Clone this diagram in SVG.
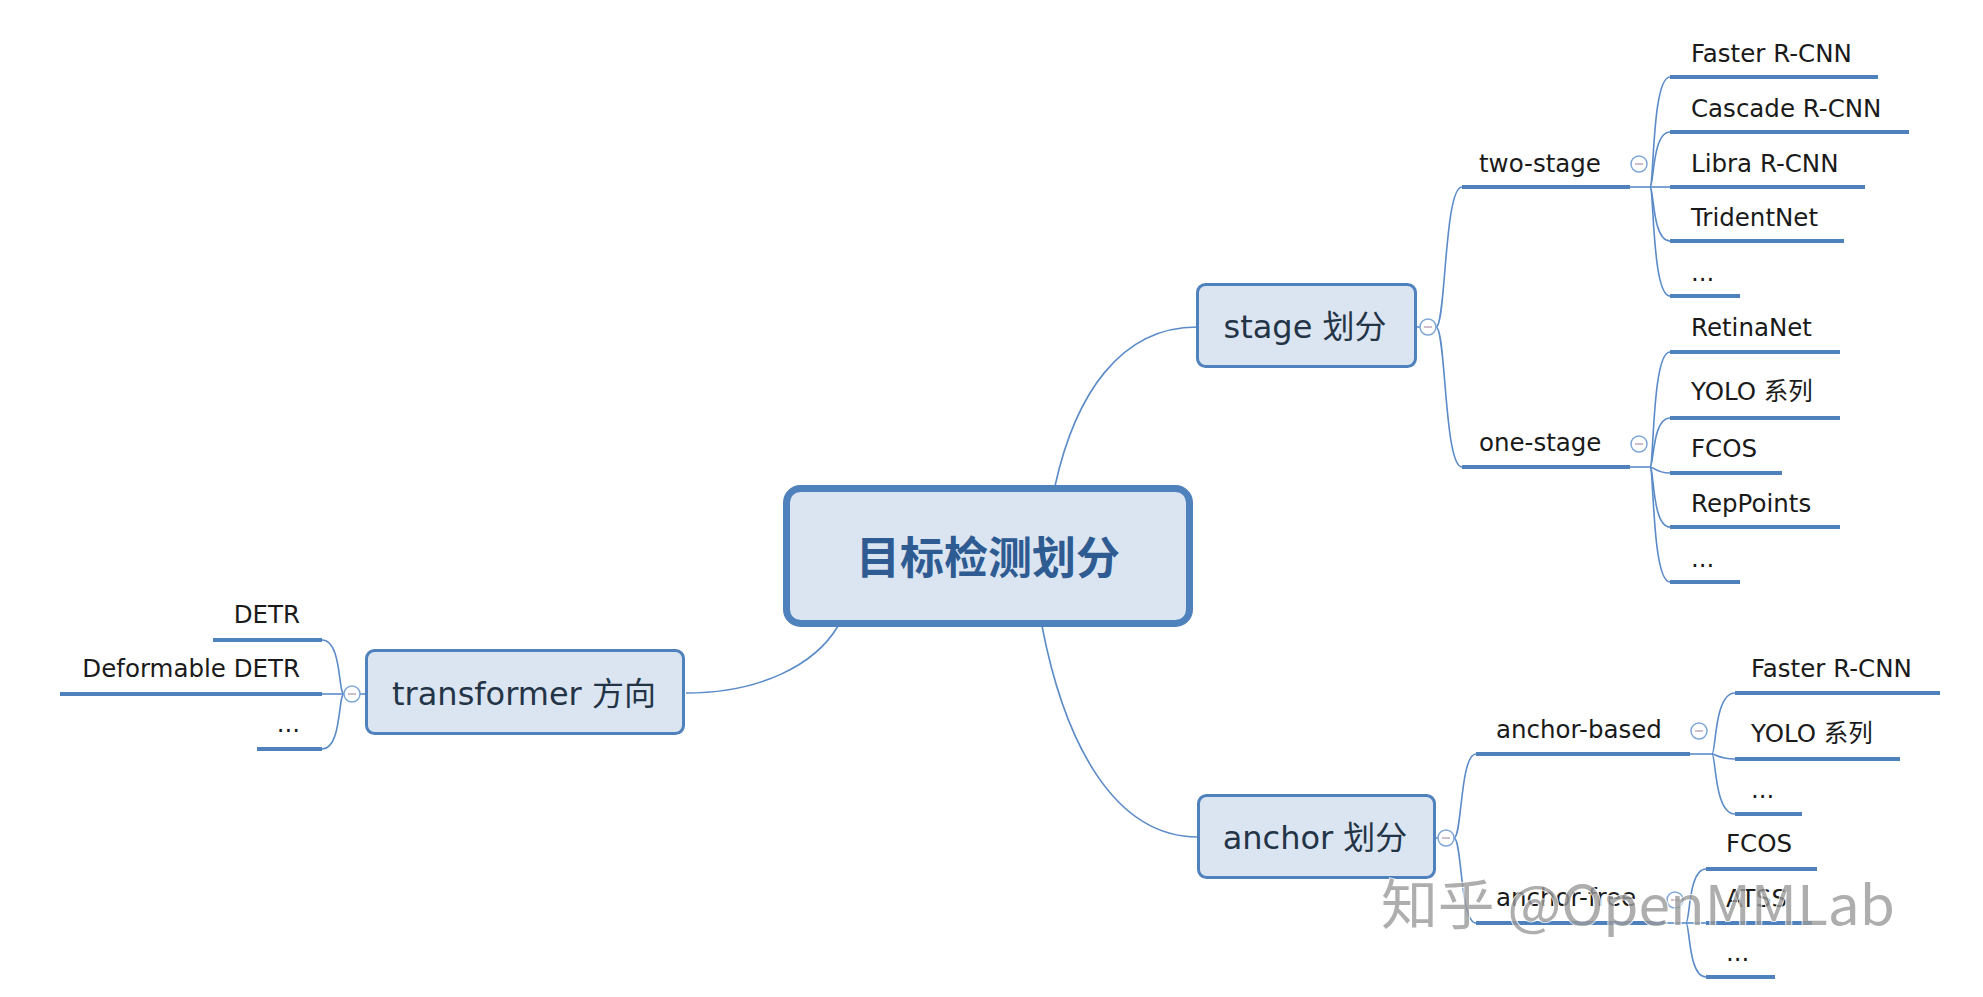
<svg xmlns="http://www.w3.org/2000/svg" width="1983" height="997" viewBox="0 0 1983 997">
<style>
.box{fill:#dbe5f1;stroke:#4f81bd;stroke-width:3}
.root{fill:#dbe5f1;stroke:#4f81bd;stroke-width:7}
.ul{stroke:#4f81bd;stroke-width:4;stroke-linecap:butt}
.conn{fill:none;stroke:#5b8bc8;stroke-width:1.6}
.t{font-family:"DejaVu Sans","Noto Sans CJK SC",sans-serif;font-size:24.5px;fill:#1a1a1a}
.bt{font-family:"DejaVu Sans","Noto Sans CJK SC",sans-serif;font-size:32px;fill:#243447;text-anchor:middle}
.rt{font-family:"Noto Sans CJK SC",sans-serif;font-size:44px;font-weight:bold;fill:#2e5b92;text-anchor:middle}
.tg{fill:#fff;stroke:#7ea6d8;stroke-width:1.5}
.mi{stroke:#c0a8bc;stroke-width:1.5}
.wm{font-family:"Noto Sans CJK SC",sans-serif;font-size:54px;fill:#9a9a9a;stroke:#fff;stroke-width:2;paint-order:stroke;opacity:0.8}
</style>
<rect width="1983" height="997" fill="#fff"/>
<g id="connectors">
<path class="conn" d="M1055,486 C1075,395 1120,327 1197,327"/>
<path class="conn" d="M1042,626 C1065,745 1115,837 1198,837"/>
<path class="conn" d="M838,626 C815,665 760,693 686,693"/>
<path class="conn" d="M1416,327 L1420,327"/>
<path class="conn" d="M1436,327 C1446,327 1444,187 1462,187"/>
<path class="conn" d="M1436,327 C1446,327 1444,467 1462,467"/>
<path class="conn" d="M1630,187 L1650,187"/>
<path class="conn" d="M1650,187 C1654,187 1652,77 1670,77"/>
<path class="conn" d="M1650,187 C1654,187 1652,132 1670,132"/>
<path class="conn" d="M1650,187 L1670,187"/>
<path class="conn" d="M1650,187 C1654,187 1652,241 1670,241"/>
<path class="conn" d="M1650,187 C1654,187 1652,296 1670,296"/>
<path class="conn" d="M1630,467 L1650,467"/>
<path class="conn" d="M1650,467 C1654,467 1652,352 1670,352"/>
<path class="conn" d="M1650,467 C1654,467 1652,418 1670,418"/>
<path class="conn" d="M1650,467 C1654,467 1656,473 1670,473"/>
<path class="conn" d="M1650,467 C1654,467 1652,527 1670,527"/>
<path class="conn" d="M1650,467 C1654,467 1652,582 1670,582"/>
<path class="conn" d="M1436,838 L1438,838"/>
<path class="conn" d="M1454,838 C1462,838 1460,754 1476,754"/>
<path class="conn" d="M1454,838 C1462,838 1460,923 1476,923"/>
<path class="conn" d="M1690,754 L1712,754"/>
<path class="conn" d="M1712,754 C1716,754 1714,693 1735,693"/>
<path class="conn" d="M1712,754 C1716,754 1718,759 1735,759"/>
<path class="conn" d="M1712,754 C1716,754 1714,814 1735,814"/>
<path class="conn" d="M1664,923 L1686,923"/>
<path class="conn" d="M1686,923 C1690,923 1688,869 1706,869"/>
<path class="conn" d="M1686,923 L1706,923"/>
<path class="conn" d="M1686,923 C1690,923 1688,977 1706,977"/>
<path class="conn" d="M367,694 L360,694"/>
<path class="conn" d="M344,694 C338,694 342,640 322,640"/>
<path class="conn" d="M344,694 L322,694"/>
<path class="conn" d="M344,694 C338,694 342,749 322,749"/>
</g>
<g id="root">
<rect class="root" x="786.5" y="488.5" width="403" height="135" rx="14"/>
<text class="rt" x="988" y="574">目标检测划分</text>
</g>
<g id="stage">
<rect class="box" x="1197.5" y="284.5" width="218" height="82" rx="8"/>
<text class="bt" x="1305" y="338">stage 划分</text>
<circle class="tg" cx="1428" cy="327" r="8"/><line class="mi" x1="1424" y1="327" x2="1432" y2="327"/>
</g>
<g id="anchor">
<rect class="box" x="1198.5" y="795.5" width="236" height="82" rx="8"/>
<text class="bt" x="1315" y="849">anchor 划分</text>
<circle class="tg" cx="1446" cy="838" r="8"/><line class="mi" x1="1442" y1="838" x2="1450" y2="838"/>
</g>
<g id="transformer">
<rect class="box" x="366.5" y="650.5" width="317" height="83" rx="8"/>
<text class="bt" x="524" y="705">transformer 方向</text>
<circle class="tg" cx="352" cy="694" r="8"/><line class="mi" x1="348" y1="694" x2="356" y2="694"/>
</g>
<g id="two-stage">
<text class="t" x="1479" y="172">two-stage</text>
<line class="ul" x1="1462" y1="187" x2="1630" y2="187"/>
<circle class="tg" cx="1639" cy="164" r="8"/><line class="mi" x1="1635" y1="164" x2="1643" y2="164"/>
</g>
<g id="ts-faster"><text class="t" x="1691" y="62">Faster R-CNN</text><line class="ul" x1="1670" y1="77" x2="1878" y2="77"/></g>
<g id="ts-cascade"><text class="t" x="1691" y="117">Cascade R-CNN</text><line class="ul" x1="1670" y1="132" x2="1909" y2="132"/></g>
<g id="ts-libra"><text class="t" x="1691" y="172">Libra R-CNN</text><line class="ul" x1="1670" y1="187" x2="1865" y2="187"/></g>
<g id="ts-trident"><text class="t" x="1691" y="226">TridentNet</text><line class="ul" x1="1670" y1="241" x2="1844" y2="241"/></g>
<g id="ts-more"><text class="t" x="1691" y="281">...</text><line class="ul" x1="1670" y1="296" x2="1740" y2="296"/></g>
<g id="one-stage">
<text class="t" x="1479" y="451">one-stage</text>
<line class="ul" x1="1462" y1="467" x2="1630" y2="467"/>
<circle class="tg" cx="1639" cy="444" r="8"/><line class="mi" x1="1635" y1="444" x2="1643" y2="444"/>
</g>
<g id="os-retina"><text class="t" x="1691" y="336">RetinaNet</text><line class="ul" x1="1670" y1="352" x2="1840" y2="352"/></g>
<g id="os-yolo"><text class="t" x="1691" y="400">YOLO 系列</text><line class="ul" x1="1670" y1="418" x2="1840" y2="418"/></g>
<g id="os-fcos"><text class="t" x="1691" y="457">FCOS</text><line class="ul" x1="1670" y1="473" x2="1782" y2="473"/></g>
<g id="os-reppoints"><text class="t" x="1691" y="512">RepPoints</text><line class="ul" x1="1670" y1="527" x2="1840" y2="527"/></g>
<g id="os-more"><text class="t" x="1691" y="567">...</text><line class="ul" x1="1670" y1="582" x2="1740" y2="582"/></g>
<g id="anchor-based">
<text class="t" x="1496" y="738">anchor-based</text>
<line class="ul" x1="1476" y1="754" x2="1690" y2="754"/>
<circle class="tg" cx="1699" cy="731" r="8"/><line class="mi" x1="1695" y1="731" x2="1703" y2="731"/>
</g>
<g id="ab-faster"><text class="t" x="1751" y="677">Faster R-CNN</text><line class="ul" x1="1735" y1="693" x2="1940" y2="693"/></g>
<g id="ab-yolo"><text class="t" x="1751" y="742">YOLO 系列</text><line class="ul" x1="1735" y1="759" x2="1900" y2="759"/></g>
<g id="ab-more"><text class="t" x="1751" y="798">...</text><line class="ul" x1="1735" y1="814" x2="1802" y2="814"/></g>
<g id="anchor-free">
<text class="t" x="1496" y="906">anchor-free</text>
<line class="ul" x1="1476" y1="923" x2="1664" y2="923"/>
<circle class="tg" cx="1675" cy="900" r="8"/><line class="mi" x1="1671" y1="900" x2="1679" y2="900"/>
</g>
<g id="af-fcos"><text class="t" x="1726" y="852">FCOS</text><line class="ul" x1="1706" y1="869" x2="1817" y2="869"/></g>
<g id="af-atss"><text class="t" x="1726" y="907">ATSS</text><line class="ul" x1="1706" y1="923" x2="1812" y2="923"/></g>
<g id="af-more"><text class="t" x="1726" y="961">...</text><line class="ul" x1="1706" y1="977" x2="1775" y2="977"/></g>
<g id="tr-detr"><text class="t" x="300" y="623" text-anchor="end">DETR</text><line class="ul" x1="213" y1="640" x2="322" y2="640"/></g>
<g id="tr-deformable"><text class="t" x="300" y="677" text-anchor="end">Deformable DETR</text><line class="ul" x1="60" y1="694" x2="322" y2="694"/></g>
<g id="tr-more"><text class="t" x="300" y="732" text-anchor="end">...</text><line class="ul" x1="257" y1="749" x2="322" y2="749"/></g>
<g id="watermark">
<text class="wm" x="1381" y="925" textLength="514" lengthAdjust="spacingAndGlyphs">知乎 @OpenMMLab</text>
</g>
</svg>
